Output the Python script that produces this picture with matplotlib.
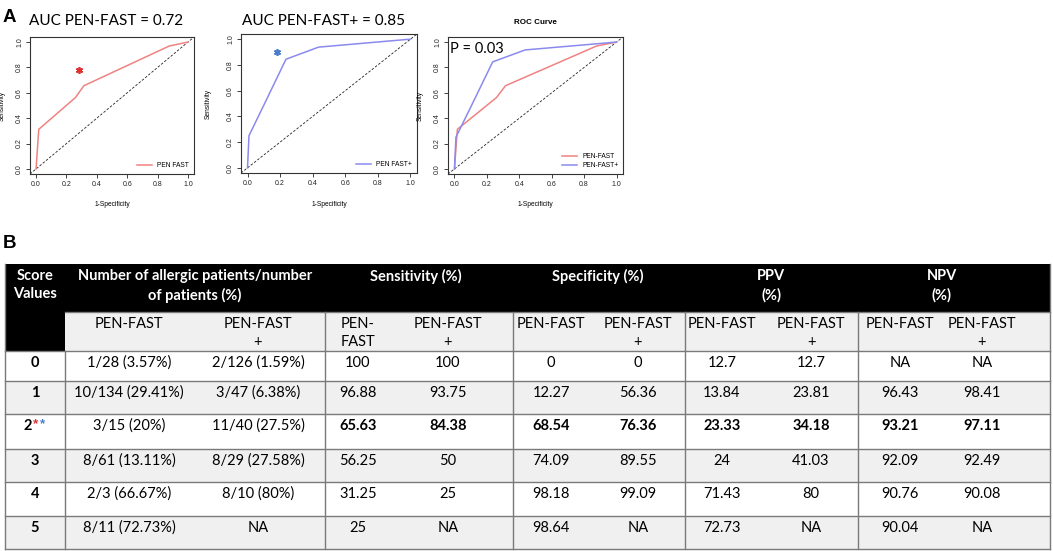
import numpy as np
import matplotlib
matplotlib.use('Agg')
import matplotlib.pyplot as plt
from matplotlib.patches import Rectangle

W, H = 1053, 551

# ROC curve points (1-specificity, sensitivity)
fpr_pf = [0.0, 0.014, 0.018, 0.259, 0.315, 0.877, 1.0]
tpr_pf = [0.0, 0.25, 0.3125, 0.5625, 0.656, 0.969, 1.0]
fpr_pfp = [0.0, 0.009, 0.105, 0.236, 0.436, 1.0]
tpr_pfp = [0.0, 0.25, 0.50, 0.844, 0.938, 1.0]
star_pf = (0.28, 0.78)
star_pfp = (0.18, 0.90)

# table contents
scores = ['0', '1', '2', '3', '4', '5']
allergic_pf = ['1/28 (3.57%)', '10/134 (29.41%)', '3/15 (20%)', '8/61 (13.11%)', '2/3 (66.67%)', '8/11 (72.73%)']
allergic_pfp = ['2/126 (1.59%)', '3/47 (6.38%)', '11/40 (27.5%)', '8/29 (27.58%)', '8/10 (80%)', 'NA']
sens_pf = ['100', '96.88', '65.63', '56.25', '31.25', '25']
sens_pfp = ['100', '93.75', '84.38', '50', '25', 'NA']
spec_pf = ['0', '12.27', '68.54', '74.09', '98.18', '98.64']
spec_pfp = ['0', '56.36', '76.36', '89.55', '99.09', 'NA']
ppv_pf = ['12.7', '13.84', '23.33', '24', '71.43', '72.73']
ppv_pfp = ['12.7', '23.81', '34.18', '41.03', '80', 'NA']
npv_pf = ['NA', '96.43', '93.21', '92.09', '90.76', '90.04']
npv_pfp = ['NA', '98.41', '97.11', '92.49', '90.08', 'NA']
group_heads = ['Score\nValues', 'Number of allergic patients/number\nof patients (%)',
               'Sensitivity (%)', 'Specificity (%)', 'PPV\n(%)', 'NPV\n(%)']
sub_heads = ['PEN-FAST', 'PEN-FAST\n+', 'PEN-\nFAST', 'PEN-FAST\n+', 'PEN-FAST', 'PEN-FAST\n+',
             'PEN-FAST', 'PEN-FAST\n+', 'PEN-FAST', 'PEN-FAST\n+']
bold_row = 2

red = '#F08282'
blue = '#8A8AEE'
sans = 'Liberation Sans'
cal = 'Lato'

fig = plt.figure(figsize=(W / 100, H / 100), dpi=100)


def box(l, r, t, b):
    return [l / W, 1 - b / H, (r - l) / W, (b - t) / H]


def roc_axes(rect, ylab_x):
    ax = fig.add_axes(rect)
    ax.set_xlim(-0.04, 1.04)
    ax.set_ylim(-0.04, 1.04)
    ticks = np.arange(0, 1.01, 0.2)
    ax.set_xticks(ticks)
    ax.set_yticks(ticks)
    ax.set_xticklabels([f'{t:.1f}' for t in ticks], fontsize=5, family=sans)
    ax.set_yticklabels([f'{t:.1f}' for t in ticks], fontsize=5, family=sans,
                       rotation=90, va='center')
    ax.tick_params(direction='out', length=3, width=0.6, pad=2, colors='#222222')
    for s in ax.spines.values():
        s.set_linewidth(0.8)
        s.set_color('#333333')
    ax.set_xlabel('1-Specificity', fontsize=4.8, family=sans)
    ax.set_ylabel('Sensitivity', fontsize=4.8, family=sans)
    ax.xaxis.set_label_coords(0.5, -0.2)
    ax.yaxis.set_label_coords(ylab_x, 0.5)
    ax.axline((0, 0), (1, 1), color='#222222', lw=0.6, ls=(0, (3, 2)))
    return ax


ax1 = roc_axes(box(30, 194, 37, 174), -0.15)
ax1.plot(fpr_pf, tpr_pf, color=red, lw=1.1, label='PEN FAST')
ax1.plot(*star_pf, marker=(6, 2, 0), color='#E03030', ms=5, mew=1.2)
ax1.legend(loc='lower right', frameon=False, prop={'family': sans, 'size': 4.8},
           handlelength=2.2, borderaxespad=0.3)

ax2 = roc_axes(box(241, 417, 34, 173), -0.165)
ax2.plot(fpr_pfp, tpr_pfp, color=blue, lw=1.1, label='PEN FAST+')
ax2.plot(*star_pfp, marker=(6, 2, 0), color='#4A7CC8', ms=5, mew=1.2)
ax2.legend(loc='lower right', frameon=False, prop={'family': sans, 'size': 4.8},
           handlelength=2.2, borderaxespad=0.3)

ax3 = roc_axes(box(448, 623, 37, 174), -0.14)
ax3.plot(fpr_pf, tpr_pf, color=red, lw=1.1, label='PEN-FAST')
ax3.plot(fpr_pfp, tpr_pfp, color=blue, lw=1.1, label='PEN-FAST+')
ax3.legend(loc='lower right', frameon=False, prop={'family': sans, 'size': 4.8},
           handlelength=2.2, borderaxespad=0.3, labelspacing=0.3)
ax3.text(0.01, 0.96, 'P = 0.03', transform=ax3.transAxes, fontsize=10.5, family=cal,
         ha='left', va='top')

# overlay axes in pixel space for labels and the table
ov = fig.add_axes([0, 0, 1, 1])
ov.set_xlim(0, W)
ov.set_ylim(H, 0)
ov.axis('off')
ov.patch.set_visible(False)

ov.text(3, 17, 'A', fontsize=13.5, fontweight='bold', family=sans, va='center', ha='left')
ov.text(3, 243, 'B', fontsize=13.5, fontweight='bold', family=sans, va='center', ha='left')
ov.text(106, 21, 'AUC PEN-FAST = 0.72', fontsize=11, family=cal, ha='center', va='center')
ov.text(324, 21, 'AUC PEN-FAST+ = 0.85', fontsize=11, family=cal, ha='center', va='center')
ov.text(535, 23, 'ROC Curve', fontsize=5.8, family=sans, fontweight='bold', ha='center', va='center')

# table geometry
x_left, x_right = 5, 1050
vlines = [5, 65, 325, 513, 685, 858, 1050]
group_x = [35, 195, 416, 598, 771, 942]
col_x = [129, 258, 358, 448, 551, 638, 722, 811, 900, 982]
y_top, y_head, y_sub = 264, 312, 351
row_edges = [351, 381, 414, 449, 482, 516, 549]
fs = 10.5
grid = '#7A7A7A'

ov.add_patch(Rectangle((x_left, y_top), x_right - x_left, y_head - y_top, color='black', lw=0))
ov.add_patch(Rectangle((x_left, y_top), vlines[1] - x_left, y_sub - y_top, color='black', lw=0))
ov.add_patch(Rectangle((vlines[1], y_head), x_right - vlines[1], y_sub - y_head, color='#F0F0F0', lw=0))
for i in range(len(scores)):
    if i % 2 == 1:
        ov.add_patch(Rectangle((x_left, row_edges[i]), x_right - x_left,
                               row_edges[i + 1] - row_edges[i], color='#F0F0F0', lw=0))

for y in [y_head] + row_edges:
    x0 = vlines[1] if y == y_head else x_left
    ov.plot([x0, x_right], [y, y], color=grid, lw=1)
for x in vlines:
    y0 = y_sub if x == vlines[1] else y_head
    if x in (x_left, x_right):
        y0 = y_top
    ov.plot([x, x], [y0, row_edges[-1]], color=grid, lw=1)

for x, s in zip(group_x, group_heads):
    ov.text(x, 269, s, color='white', fontsize=fs, fontweight='bold', family=cal,
            ha='center', va='top', linespacing=1.4)
for x, s in zip(col_x, sub_heads):
    ov.text(x, 317, s, fontsize=fs, family=cal, ha='center', va='top', linespacing=1.4)

cols = [allergic_pf, allergic_pfp, sens_pf, sens_pfp, spec_pf, spec_pfp,
        ppv_pf, ppv_pfp, npv_pf, npv_pfp]
for i, sc in enumerate(scores):
    yc = row_edges[i] + 12
    if i == bold_row:
        ov.text(28, yc, sc, fontsize=fs, fontweight='bold', family=cal, ha='center', va='center')
        ov.text(35, yc - 2, '*', fontsize=9.5, fontweight='bold', color='#E03030', family=sans,
                ha='center', va='center')
        ov.text(42, yc - 2, '*', fontsize=9.5, fontweight='bold', color='#4A7CC8', family=sans,
                ha='center', va='center')
    else:
        ov.text(35, yc, sc, fontsize=fs, fontweight='bold', family=cal, ha='center', va='center')
    for j, col in enumerate(cols):
        w = 'bold' if (i == bold_row and j >= 2) else 'normal'
        ov.text(col_x[j], yc, col[i], fontsize=fs, fontweight=w, family=cal,
                ha='center', va='center')

fig.savefig('out.png', dpi=100)
